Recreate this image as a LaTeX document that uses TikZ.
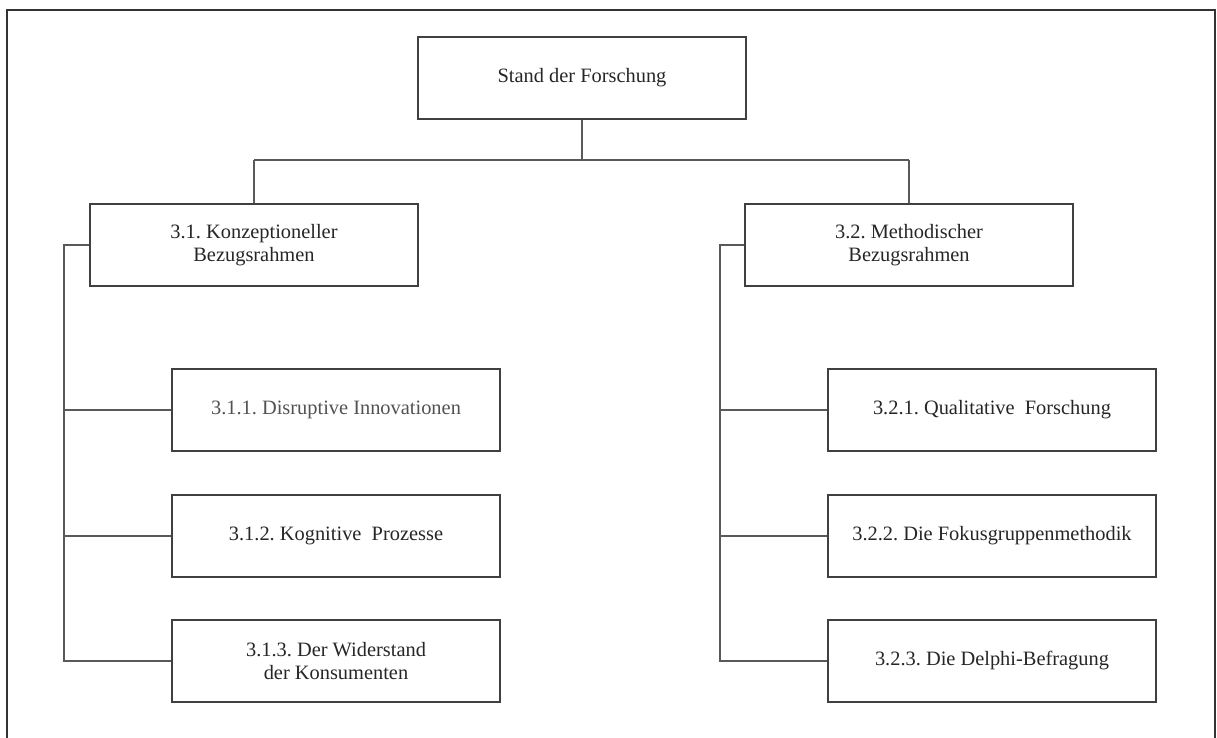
\documentclass[tikz,border=0pt]{standalone}
\usepackage{fontspec}
\setmainfont{Liberation Serif}
\frenchspacing
\begin{document}
\begin{tikzpicture}[x=1pt,y=-1pt,
  box/.style={draw=black!75, line width=1.4pt, minimum width=328pt, minimum height=82pt,
    inner sep=0pt, align=center, text=black!85,
    font=\fontsize{20.4}{23}\selectfont},
  link/.style={draw=black!65, line width=1.3pt},
  frame/.style={draw=black!80, line width=1.6pt}]
\useasboundingbox (0,0) rectangle (1217,738);
\draw[frame] (7,738) -- (7,10) -- (1215,10) -- (1215,738);

% top level
\node[box] (top) at (582,78) {Stand der Forschung};

% second level
\node[box] (k31) at (254,245) {3.1. Konzeptioneller\\Bezugsrahmen};
\node[box] (m32) at (909,245) {3.2. Methodischer\\Bezugsrahmen};

% third level, left
\node[box, text=black!68] (k311) at (336,410) {3.1.1. Disruptive Innovationen};
\node[box] (k312) at (336,536) {3.1.2. Kognitive\ \ Prozesse};
\node[box] (k313) at (336,661) {3.1.3. Der Widerstand\\der Konsumenten};

% third level, right
\node[box] (m321) at (992,410) {3.2.1. Qualitative\ \ Forschung};
\node[box] (m322) at (992,536) {3.2.2. Die Fokusgruppenmethodik};
\node[box] (m323) at (992,661) {3.2.3. Die Delphi-Befragung};

% spines
\coordinate (bar) at (0,160);
\coordinate (sL) at (64,0);
\coordinate (sR) at (720,0);

\draw[link] (top.south) -- (top.south |- bar);
\draw[link] (k31.north |- bar) -- (m32.north |- bar);
\draw[link] (k31.north |- bar) -- (k31.north);
\draw[link] (m32.north |- bar) -- (m32.north);

\draw[link] (k31.west) -| (sL |- k313.west) -- (k313.west);
\draw[link] (sL |- k311.west) -- (k311.west);
\draw[link] (sL |- k312.west) -- (k312.west);

\draw[link] (m32.west) -| (sR |- m323.west) -- (m323.west);
\draw[link] (sR |- m321.west) -- (m321.west);
\draw[link] (sR |- m322.west) -- (m322.west);
\end{tikzpicture}
\end{document}
